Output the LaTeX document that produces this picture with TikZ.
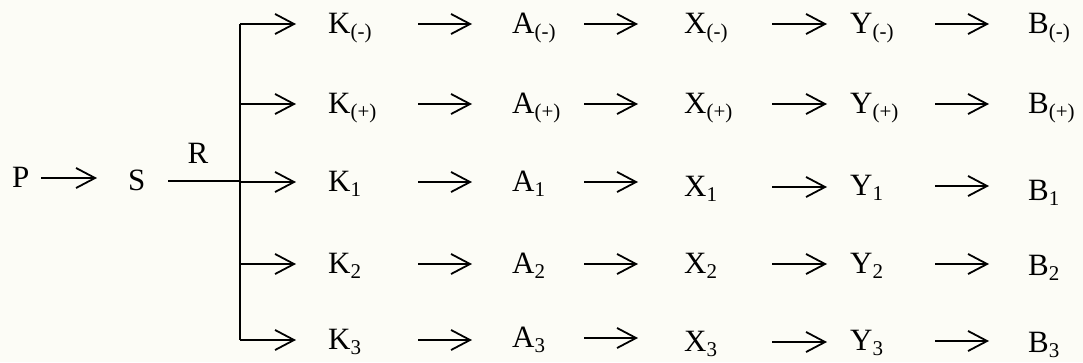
\documentclass[tikz,border=0pt]{standalone}
\usepackage{fontspec}
\setmainfont{Liberation Serif}
\usetikzlibrary{arrows.meta}
\definecolor{bgc}{RGB}{252,252,246}
\newcommand\lowsub[1]{\raisebox{-5pt}{\fontsize{21}{21}\selectfont #1}}
\begin{document}
\begin{tikzpicture}[x=1pt,y=-1pt,
  lbl/.style={inner sep=0pt, anchor=west, text height=25pt, text depth=6pt,
    font=\fontsize{31}{36}\selectfont, align=left},
  arr/.style={-{Straight Barb[length=19pt,width=20pt,line width=1.8pt]}, line width=1.8pt},
  ln/.style={line width=1.8pt}]
\path[use as bounding box, fill=bgc] (0,0) rectangle (1083,362);
% left part
\node[lbl, text width=29pt] (P) at (12,178) {P};
\node[lbl, text width=40pt] (S) at (128,181) {S};
\node[inner sep=0pt, anchor=base, font=\fontsize{31}{36}\selectfont] (R) at (198,163) {R};
\coordinate (jt) at (240,24);
\coordinate (jb) at (240,340);
% rows
\node[lbl, text width=90pt] (Km) at (328,24) {K\lowsub{(-)}};
\node[lbl, text width=72pt] (Am) at (512,24) {A\lowsub{(-)}};
\node[lbl, text width=88pt] (Xm) at (684,24) {X\lowsub{(-)}};
\node[lbl, text width=85pt] (Ym) at (850,24) {Y\lowsub{(-)}};
\node[lbl, text width=50pt] (Bm) at (1028,24) {B\lowsub{(-)}};
\node[lbl, text width=90pt] (Kp) at (328,104) {K\lowsub{(+)}};
\node[lbl, text width=72pt] (Ap) at (512,104) {A\lowsub{(+)}};
\node[lbl, text width=88pt] (Xp) at (684,104) {X\lowsub{(+)}};
\node[lbl, text width=85pt] (Yp) at (850,104) {Y\lowsub{(+)}};
\node[lbl, text width=50pt] (Bp) at (1028,104) {B\lowsub{(+)}};
\node[lbl, text width=90pt] (K1) at (328,182) {K\lowsub{1}};
\node[lbl, text width=72pt] (A1) at (512,182) {A\lowsub{1}};
\node[lbl, text width=88pt] (X1) at (684,187) {X\lowsub{1}};
\node[lbl, text width=85pt] (Y1) at (850,186) {Y\lowsub{1}};
\node[lbl, text width=50pt] (B1) at (1028,191) {B\lowsub{1}};
\node[lbl, text width=90pt] (K2) at (328,264) {K\lowsub{2}};
\node[lbl, text width=72pt] (A2) at (512,264) {A\lowsub{2}};
\node[lbl, text width=88pt] (X2) at (684,264) {X\lowsub{2}};
\node[lbl, text width=85pt] (Y2) at (850,264) {Y\lowsub{2}};
\node[lbl, text width=50pt] (B2) at (1028,266) {B\lowsub{2}};
\node[lbl, text width=90pt] (K3) at (328,340) {K\lowsub{3}};
\node[lbl, text width=72pt] (A3) at (512,338) {A\lowsub{3}};
\node[lbl, text width=88pt] (X3) at (684,342) {X\lowsub{3}};
\node[lbl, text width=85pt] (Y3) at (850,341) {Y\lowsub{3}};
\node[lbl, text width=50pt] (B3) at (1028,343) {B\lowsub{3}};
% connectors
\draw[arr, shorten >=31pt] (P.east) -- (P.east -| S.west);
\draw[ln] (S.east) -- (S.east -| jt);
\draw[ln] (jt) -- (jb);
\foreach \r in {m,p,1,2,3} {
  \draw[arr, shorten >=32pt] (K\r.west -| jt) -- (K\r.west);
  \draw[arr, shorten >=40pt] (K\r.east) -- (K\r.east -| A\r.west);
  \draw[arr, shorten >=46pt] (A\r.east) -- (A\r.east -| X\r.west);
  \draw[arr, shorten >=23pt] (X\r.east) -- (X\r.east -| Y\r.west);
  \draw[arr, shorten >=39pt] (Y\r.east) -- (Y\r.east -| B\r.west);
}
\end{tikzpicture}
\end{document}
